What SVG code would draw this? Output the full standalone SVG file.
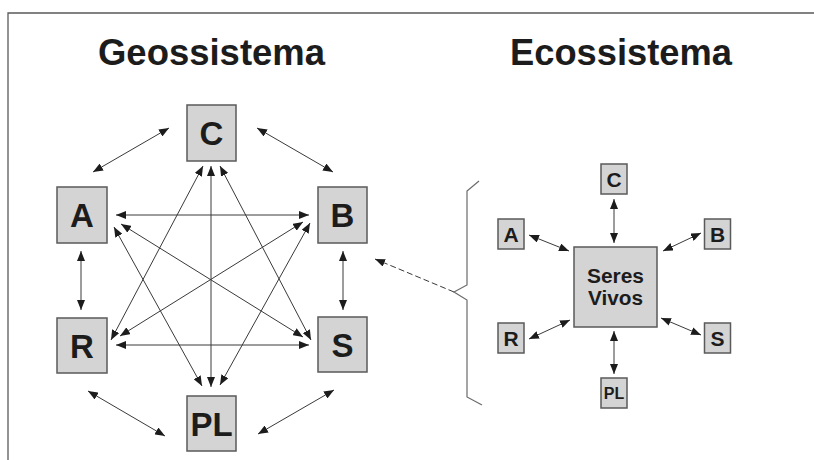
<svg xmlns="http://www.w3.org/2000/svg" width="814" height="460" viewBox="0 0 814 460">
<defs>
<style>
.box{fill:#d4d4d4;stroke:#5a5a5a;stroke-width:1.5}
.t{font-family:"Liberation Sans",Arial,sans-serif;font-weight:bold;fill:#1c1c1c;text-anchor:middle}
.big{font-size:33px}
.sm{font-size:21px}
.sv{font-size:19.5px}
.title{font-size:36.5px}
.ln{stroke:#3a3a3a;stroke-width:1;fill:none;marker-start:url(#ah);marker-end:url(#ah)}
.frame{stroke:#5a5a5a;stroke-width:1.3;fill:none}
</style>
<marker id="ah" viewBox="0 0 10 8" refX="10" refY="4" markerWidth="10" markerHeight="8" markerUnits="userSpaceOnUse" orient="auto-start-reverse">
<path d="M0,0 L10,4 L0,8 z" fill="#1c1c1c"/>
</marker>
<marker id="ah1" viewBox="0 0 10 8" refX="10" refY="4" markerWidth="10" markerHeight="8" markerUnits="userSpaceOnUse" orient="auto">
<path d="M0,0 L10,4 L0,8 z" fill="#1c1c1c"/>
</marker>
</defs>
<rect width="814" height="460" fill="#ffffff"/>
<path class="frame" d="M8,460 L8,13 L814,13"/>
<g id="titles">
<text class="t title" x="211.5" y="65" textLength="227" lengthAdjust="spacingAndGlyphs">Geossistema</text>
<text class="t title" x="621" y="65" textLength="222" lengthAdjust="spacingAndGlyphs">Ecossistema</text>
</g>
<g id="connectors">
<line class="ln" x1="93" y1="172" x2="169" y2="128"/>
<line class="ln" x1="257" y1="128" x2="333" y2="172"/>
<line class="ln" x1="81" y1="251" x2="81" y2="310"/>
<line class="ln" x1="343" y1="251" x2="343" y2="310"/>
<line class="ln" x1="88" y1="391" x2="165" y2="436"/>
<line class="ln" x1="258" y1="434" x2="334" y2="390"/>
<line class="ln" x1="116" y1="215" x2="309" y2="215"/>
<line class="ln" x1="116" y1="345" x2="309" y2="345"/>
<line class="ln" x1="211" y1="166" x2="211" y2="387"/>
<line class="ln" x1="203" y1="166" x2="111" y2="340"/>
<line class="ln" x1="220" y1="166" x2="311" y2="340"/>
<line class="ln" x1="121" y1="224" x2="303" y2="337"/>
<line class="ln" x1="114" y1="227" x2="202" y2="386"/>
<line class="ln" x1="303" y1="222" x2="120" y2="336"/>
<line class="ln" x1="310" y1="223" x2="220" y2="385"/>
<line class="ln" x1="614" y1="199" x2="614" y2="243"/>
<line class="ln" x1="614" y1="331" x2="614" y2="374"/>
<line class="ln" x1="529" y1="235" x2="569" y2="251"/>
<line class="ln" x1="701" y1="233" x2="663" y2="251"/>
<line class="ln" x1="529" y1="339" x2="570" y2="320"/>
<line class="ln" x1="701" y1="335" x2="661" y2="318"/>
<line x1="454" y1="292" x2="375" y2="259" stroke="#3a3a3a" stroke-width="1" stroke-dasharray="6,3" marker-end="url(#ah1)"/>
</g>
<g id="brace">
<path d="M479,181 L467,191 L467,285 L454,292 L467,300 L467,397 L482,405" fill="none" stroke="#6a6a6a" stroke-width="1.2"/>
</g>
<g id="geo-C"><rect class="box" x="187" y="105" width="49" height="56"/><text class="t big" x="211.5" y="145">C</text></g>
<g id="geo-A"><rect class="box" x="57" y="187" width="50" height="56"/><text class="t big" x="82" y="227">A</text></g>
<g id="geo-B"><rect class="box" x="318" y="187" width="49" height="56"/><text class="t big" x="342.5" y="227">B</text></g>
<g id="geo-R"><rect class="box" x="57" y="318" width="50" height="55"/><text class="t big" x="82" y="358">R</text></g>
<g id="geo-S"><rect class="box" x="318" y="317" width="49" height="55"/><text class="t big" x="342.5" y="356.5">S</text></g>
<g id="geo-PL"><rect class="box" x="187" y="396" width="49" height="55"/><text class="t big" x="211.5" y="435.5">PL</text></g>
<g id="eco-SV"><rect class="box" x="574" y="247" width="83" height="80"/><text class="t sv" x="615.5" y="283" textLength="57" lengthAdjust="spacingAndGlyphs">Seres</text><text class="t sv" x="615.5" y="305" textLength="55" lengthAdjust="spacingAndGlyphs">Vivos</text></g>
<g id="eco-C"><rect class="box" x="601" y="164" width="26" height="30"/><text class="t sm" x="614" y="186.5">C</text></g>
<g id="eco-A"><rect class="box" x="498" y="219" width="26" height="30"/><text class="t sm" x="511" y="241.5">A</text></g>
<g id="eco-B"><rect class="box" x="704.5" y="219" width="26" height="30"/><text class="t sm" x="717.5" y="241.5">B</text></g>
<g id="eco-R"><rect class="box" x="498" y="323" width="26" height="30"/><text class="t sm" x="511" y="345.5">R</text></g>
<g id="eco-S"><rect class="box" x="704.5" y="323" width="26" height="30"/><text class="t sm" x="717.5" y="345.5">S</text></g>
<g id="eco-PL"><rect class="box" x="601" y="378" width="26" height="30"/><text class="t" style="font-size:16px" x="614" y="399">PL</text></g>
</svg>
